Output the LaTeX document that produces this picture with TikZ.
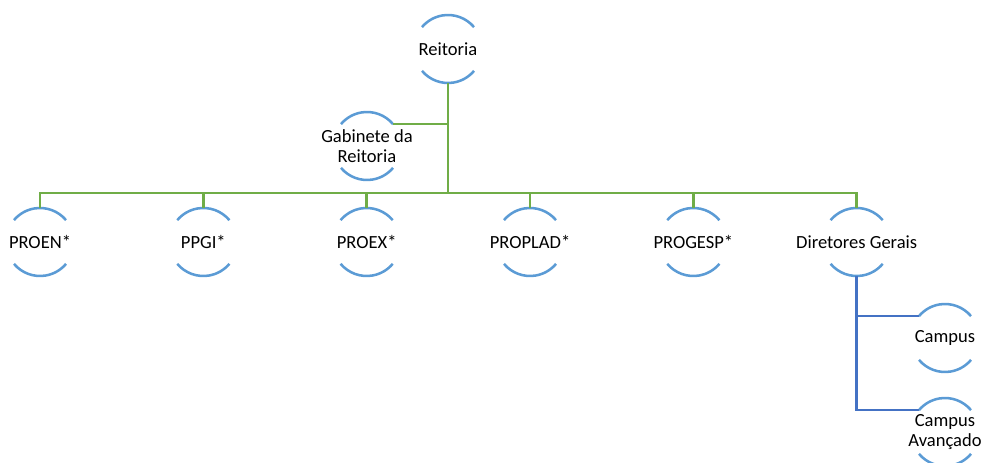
\documentclass[tikz,border=0pt]{standalone}
\usepackage{fontspec}
\setmainfont{Carlito}
\usetikzlibrary{positioning}

\definecolor{arcblue}{HTML}{5B9BD5}
\definecolor{linegreen}{HTML}{70AD47}
\definecolor{lineblue}{HTML}{4472C4}

\tikzset{
	orgnode/.style={circle, minimum size=51pt, inner sep=0pt, outer sep=0pt,
		label={[font=\fontsize{13.9pt}{15.5pt}\selectfont, align=center]center:#1}},
	arcline/.style={arcblue, line width=1.9pt},
	greenline/.style={linegreen, line width=1.9pt},
	blueline/.style={lineblue, line width=1.9pt},
}

\begin{document}
\begin{tikzpicture}[x=0.75pt, y=-0.75pt]
	\useasboundingbox (0,0) rectangle (982,463);

	\node[orgnode={Reitoria}] (reit) at (448,49) {};
	\node[orgnode={Gabinete da\\Reitoria}] (gab) at (367,146) {};
	\node[orgnode={PROEN*}] (proen) at (40,242) {};
	\node[orgnode={PPGI*}, right=71.5pt of proen] (ppgi) {};
	\node[orgnode={PROEX*}, right=71.5pt of ppgi] (proex) {};
	\node[orgnode={PROPLAD*}, right=71.5pt of proex] (proplad) {};
	\node[orgnode={PROGESP*}, right=71.5pt of proplad] (progesp) {};
	\node[orgnode={Diretores Gerais}, right=71.5pt of progesp] (diret) {};
	\node[orgnode={Campus}] (campus) at (945,338) {};
	\node[orgnode={Campus\\Avançado}] (avanc) at (945,432) {};

	\coordinate (bar) at (448,193);

	% arcs round every node
	\foreach \n in {reit, gab, proen, ppgi, proex, proplad, progesp, diret, campus, avanc}
		\draw[arcline]
			(\n.40) arc[start angle=40, end angle=140, radius=25.5pt]
			(\n.220) arc[start angle=220, end angle=320, radius=25.5pt];

	\draw[greenline] (reit.south) -- (bar);
	\draw[greenline] (gab.40) -- (gab.40 -| reit.south);
	\foreach \n in {proen, ppgi, proex, proplad, progesp, diret}
		\draw[greenline] (bar) -| (\n.north);

	\draw[blueline]
		(diret.south) |- (campus.140)
		(diret.south) |- (avanc.140);
\end{tikzpicture}
\end{document}
